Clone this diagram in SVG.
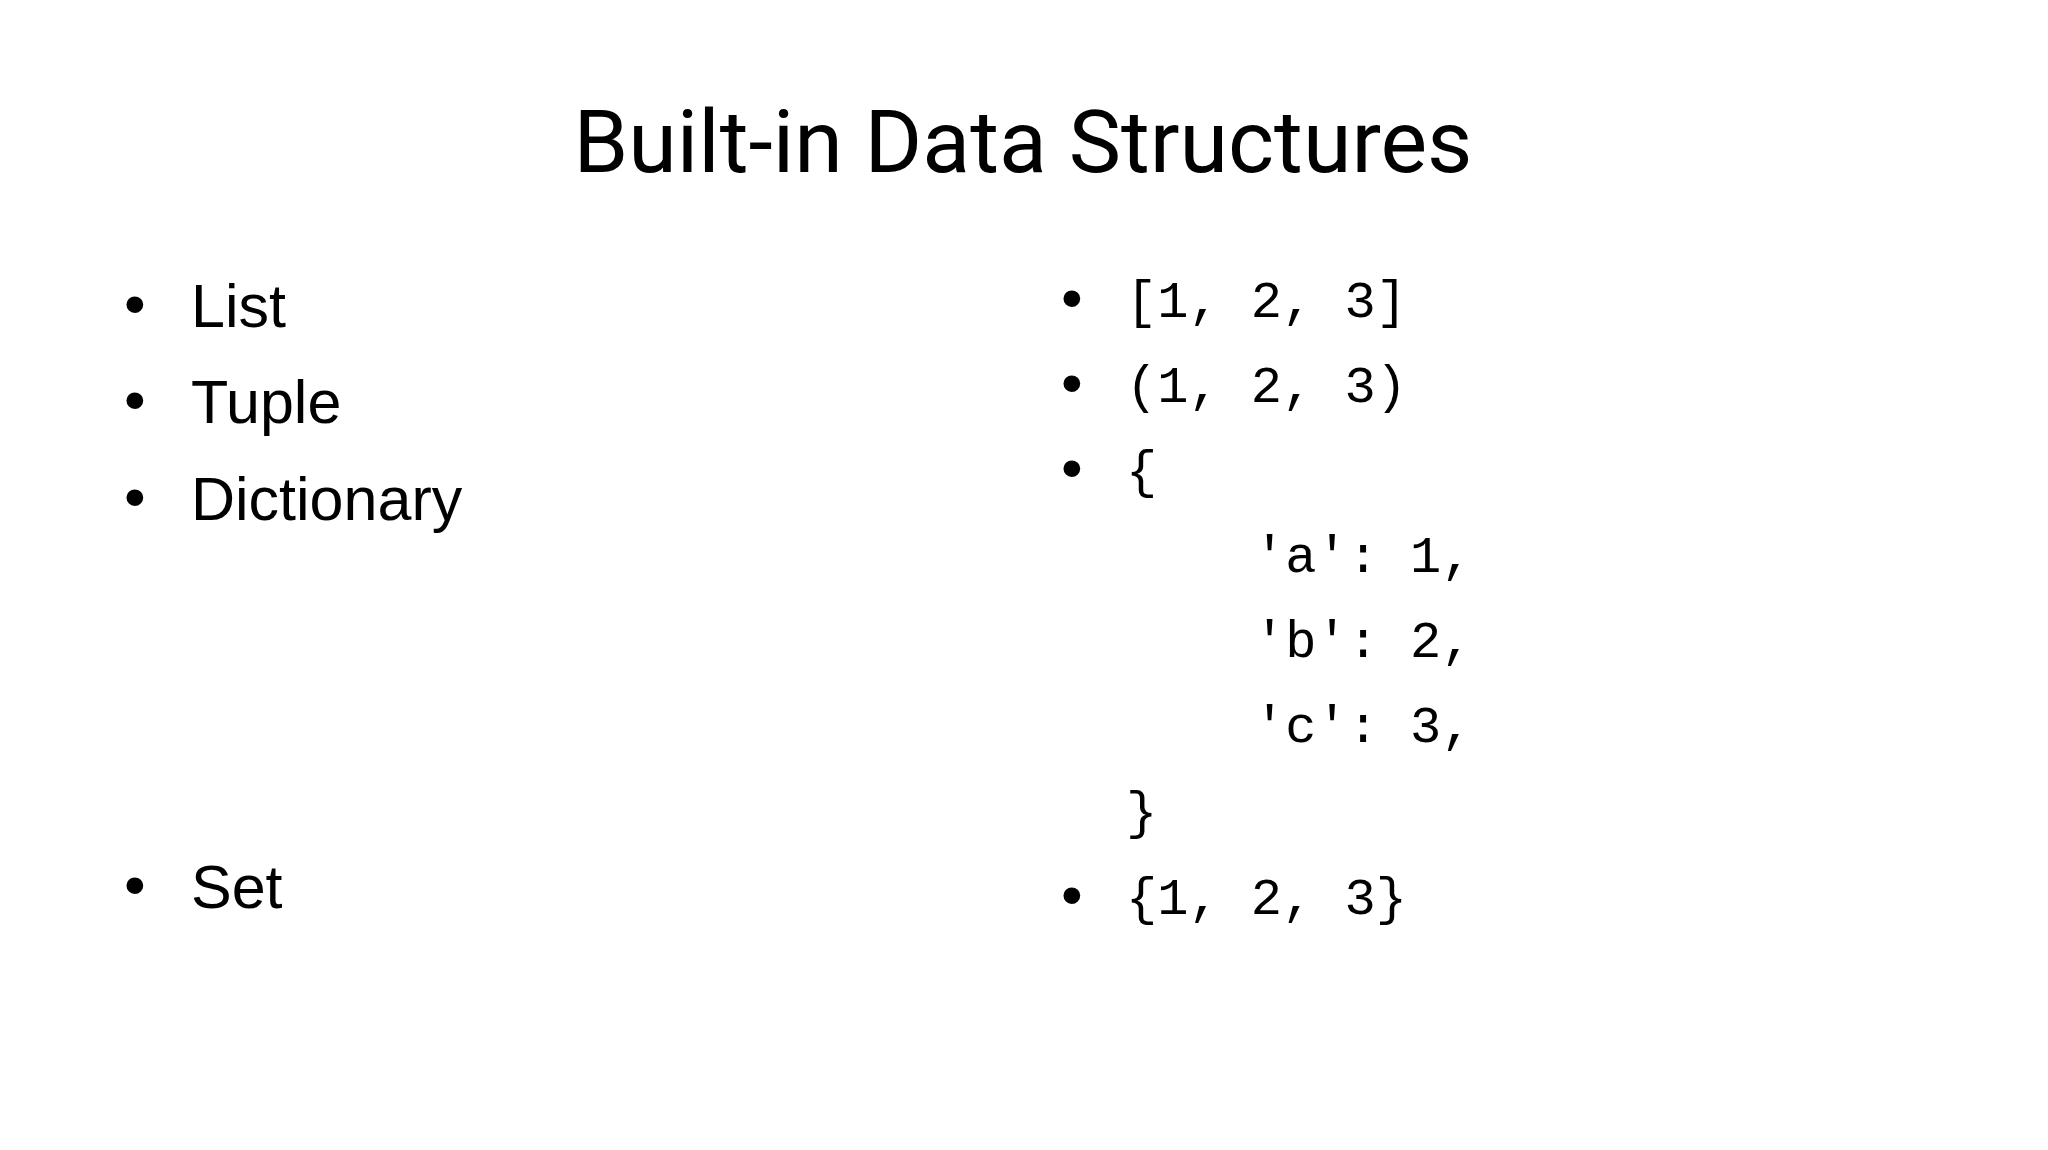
<svg xmlns="http://www.w3.org/2000/svg" width="2048" height="1150" viewBox="0 0 2048 1150">
<style>
.t{font-family:Roboto,"Liberation Sans",sans-serif;font-size:88px;fill:#000}
.l{font-family:"Liberation Sans",Arial,sans-serif;font-size:61px;fill:#000}
.m{font-family:"Liberation Mono","Courier New",monospace;font-size:52px;fill:#000}
.b{font-family:"Liberation Sans",Arial,sans-serif;font-size:62px;fill:#000}
</style>
<rect width="2048" height="1150" fill="#fff"/>
<g id="title"><text class="t" x="1023" y="172" text-anchor="middle">Built-in Data Structures</text></g>
<g id="left">
<text class="b" x="124" y="325">•</text><text class="l" x="191" y="327">List</text>
<text class="b" x="124" y="421">•</text><text class="l" x="191" y="423">Tuple</text>
<text class="b" x="124" y="518">•</text><text class="l" x="191" y="520">Dictionary</text>
<text class="b" x="124" y="906">•</text><text class="l" x="191" y="908">Set</text>
</g>
<g id="right">
<text class="b" x="1061" y="319">•</text><text class="m" x="1126" y="317">[1, 2, 3]</text>
<text class="b" x="1061" y="404">•</text><text class="m" x="1126" y="402">(1, 2, 3)</text>
<text class="b" x="1061" y="489">•</text><text class="m" x="1126" y="487">{</text>
<text class="m" x="1254" y="572">'a': 1,</text>
<text class="m" x="1254" y="657">'b': 2,</text>
<text class="m" x="1254" y="742">'c': 3,</text>
<text class="m" x="1126" y="828">}</text>
<text class="b" x="1061" y="916">•</text><text class="m" x="1126" y="914">{1, 2, 3}</text>
</g>
</svg>
